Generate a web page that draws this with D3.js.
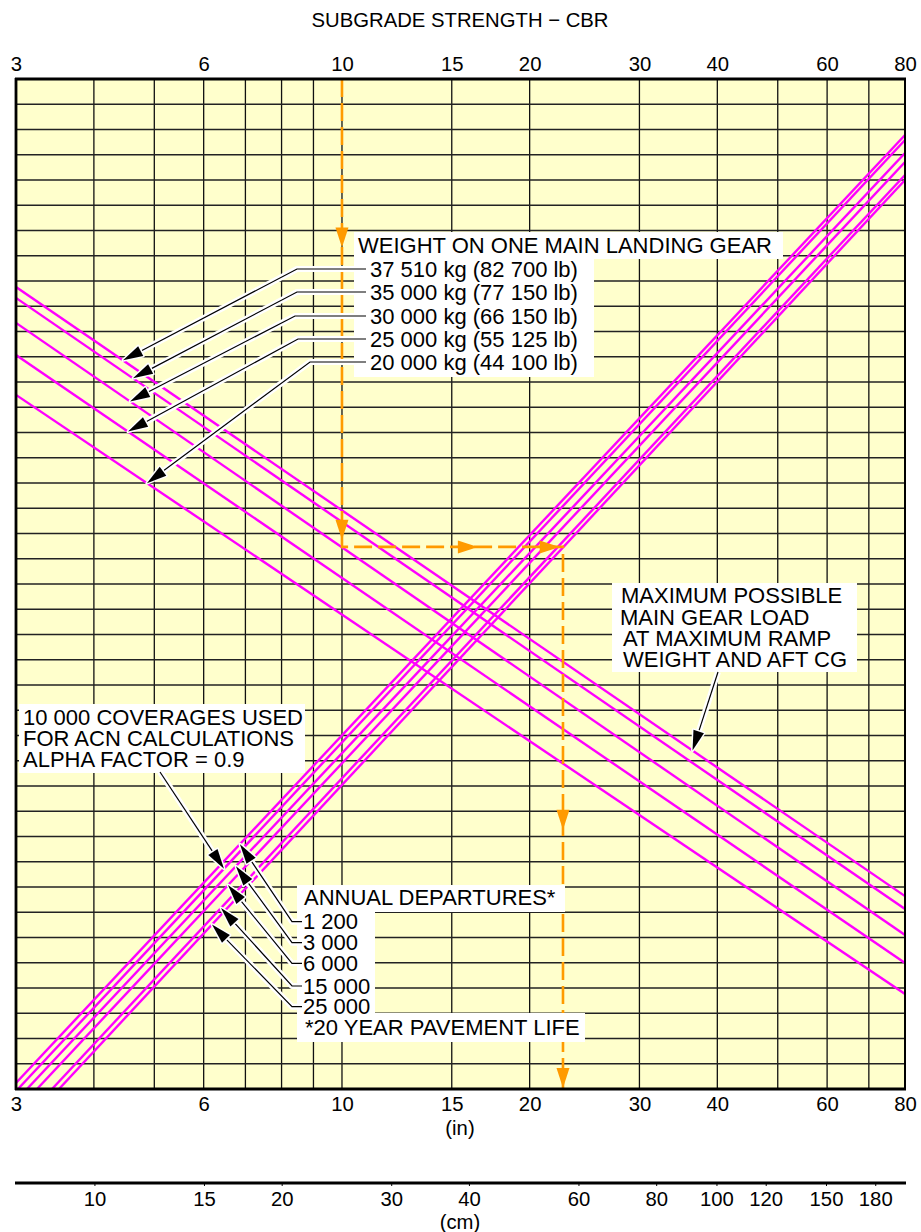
<!DOCTYPE html>
<html><head><meta charset="utf-8">
<script src="https://cdn.jsdelivr.net/npm/d3@7"></script>
<style>
body{margin:0;background:#fff}
text{font-family:"Liberation Sans",Arial,Helvetica,sans-serif;fill:#000}
</style>
</head><body>
<svg id="c" width="921" height="1232"></svg>
<script>
// ---------------- data ----------------
const cbrTicks = [3, 6, 10, 15, 20, 30, 40, 60, 80];
const gridValues = [3, 4, 5, 6, 7, 8, 9, 10, 15, 20, 30, 40, 50, 60, 70, 80];
const thicknessTicksIn = [3, 6, 10, 15, 20, 30, 40, 60, 80];
const thicknessTicksCm = [10, 15, 20, 30, 40, 60, 80, 100, 120, 150, 180];
const gridRows = d3.range(0, 41);

const weightLabels = ["37 510 kg (82 700 lb)", "35 000 kg (77 150 lb)", "30 000 kg (66 150 lb)", "25 000 kg (55 125 lb)", "20 000 kg (44 100 lb)"];
const weightRowAtCbr3 = [31.76, 31.33, 30.34, 29.07, 27.49];
const weightRowAtCbr80 = [7.64, 7.13, 6.10, 4.99, 3.76];
const weightTipCbr = [4.454, 4.621, 4.571, 4.537, 4.866];

const departureLabels = ["1 200", "3 000", "6 000", "15 000", "25 000"];
const departureStart = [[3, 0.24], [3.124, 0], [3.242, 0], [3.427, 0], [3.516, 0]];
const departureEnd = [[80, 37.78], [80, 37.07], [80, 36.71], [80, 36.2], [80, 36.0]];
const departureTipIn = [6.86, 6.76, 6.563, 6.396, 6.187];

const acnStart = [3.022, 0];
const acnEnd = [80, 37.58];
const acnTipIn = 6.467;
const maxLoadTipCbr = 36.5;

const examplePath = [[10, 40], [10, 21.47], [22.62, 21.47], [22.62, 0]];
const exampleArrowFractions = [[0.36, 0.985], [0.615, 0.985], [0.522, 0.998]];

// ---------------- layout ----------------
const svg = d3.select("#c");
const L = 16, R = 905, T = 79, B = 1089;
const x = d3.scaleLog().domain([3, 80]).range([L, R]);
const y = d3.scaleLinear().domain([0, 40]).range([B, T]);
const xcm = d3.scaleLog().domain([3 * 2.54, 80 * 2.54]).range([21, 908]);
const MAG = "#ff00ff", ORANGE = "#ff9a00", YEL = "#ffffcc";
const FS = 22;
const AFS = 20.3;

svg.append("defs").append("clipPath").attr("id", "plot")
  .append("rect").attr("x", L).attr("y", T).attr("width", R - L).attr("height", B - T);

// background
svg.append("rect").attr("x", L).attr("y", T).attr("width", R - L).attr("height", B - T).attr("fill", YEL);

// grid
const g = svg.append("g");
g.selectAll("line.v").data(gridValues).join("line")
  .attr("x1", d => x(d)).attr("x2", d => x(d)).attr("y1", T).attr("y2", B)
  .attr("stroke", "#111").attr("stroke-width", 1.3);
g.selectAll("line.h").data(gridRows).join("line")
  .attr("x1", L).attr("x2", R).attr("y1", d => y(d)).attr("y2", d => y(d))
  .attr("stroke", "#222").attr("stroke-width", 1.3);

// magenta lines
const curves = svg.append("g").attr("clip-path", "url(#plot)");
const lineGen = d3.line().x(d => x(d[0])).y(d => y(d[1]));
weightRowAtCbr3.forEach((r, i) => {
  curves.append("path").attr("d", lineGen([[3, r], [80, weightRowAtCbr80[i]]]))
    .attr("stroke", MAG).attr("stroke-width", 2.4).attr("fill", "none");
});
departureStart.forEach((s, i) => {
  curves.append("path").attr("d", lineGen([s, departureEnd[i]]))
    .attr("stroke", MAG).attr("stroke-width", 2.4).attr("fill", "none");
});
curves.append("path").attr("d", lineGen([acnStart, acnEnd]))
  .attr("stroke", MAG).attr("stroke-width", 2.4).attr("fill", "none");

// example path (orange dashed)
const ex = svg.append("g");
ex.append("path").attr("d", lineGen(examplePath)).attr("fill", "none")
  .attr("stroke", ORANGE).attr("stroke-width", 2.6).attr("stroke-dasharray", "18,6");
function arrowHead(parent, tx, ty, ang, len, hw, fill, halo) {
  const c = Math.cos(ang), s = Math.sin(ang);
  const bx = tx - len * c, by = ty - len * s;
  const pts = [[tx, ty], [bx - hw * s, by + hw * c], [bx + hw * s, by - hw * c]];
  const p = parent.append("polygon").attr("points", pts.map(q => q.join(",")).join(" ")).attr("fill", fill);
  if (halo) p.attr("stroke", "#fff").attr("stroke-width", 3).attr("paint-order", "stroke").attr("stroke-linejoin", "round");
  return p;
}
for (let k = 0; k < 3; k++) {
  const a = examplePath[k], b = examplePath[k + 1];
  const ax = x(a[0]), ay = y(a[1]), bx = x(b[0]), by = y(b[1]);
  const ang = Math.atan2(by - ay, bx - ax);
  exampleArrowFractions[k].forEach(f => {
    arrowHead(ex, ax + (bx - ax) * f, ay + (by - ay) * f, ang, 20, 6.5, ORANGE, false);
  });
}

// helpers for annotation
function pointOn(p0, p1, xv) {
  const px = x(xv), x0 = x(p0[0]), x1 = x(p1[0]);
  const t = (px - x0) / (x1 - x0);
  return [px, y(p0[1]) + t * (y(p1[1]) - y(p0[1]))];
}
const ann = svg.append("g");
function box(x0, y0, x1, y1) {
  ann.append("rect").attr("x", x0).attr("y", y0).attr("width", x1 - x0).attr("height", y1 - y0).attr("fill", "#fff");
}
function leader(pts) {
  const tip = pts[pts.length - 1], prev = pts[pts.length - 2];
  const ang = Math.atan2(tip[1] - prev[1], tip[0] - prev[0]);
  const base = [tip[0] - 16 * Math.cos(ang), tip[1] - 16 * Math.sin(ang)];
  const body = pts.slice(0, -1).concat([base]);
  const lg = d3.line();
  ann.append("path").attr("d", lg(pts.slice(0, -1).concat([[tip[0] - 8 * Math.cos(ang), tip[1] - 8 * Math.sin(ang)]])))
    .attr("fill", "none").attr("stroke", "#fff").attr("stroke-width", 6).attr("stroke-linejoin", "round");
  ann.append("path").attr("d", lg(body)).attr("fill", "none").attr("stroke", "#000").attr("stroke-width", 1.2);
  arrowHead(ann, tip[0], tip[1], ang, 20, 5.5, "#000", true);
}
function label(tx, ty, str, size, anchor) {
  return ann.append("text").attr("x", tx).attr("y", ty).attr("font-size", size || FS)
    .attr("text-anchor", anchor || "start").text(str);
}

// weight annotation
box(354, 232, 783, 259);
box(354, 258, 594, 377);
const weightRowY = [269, 292, 316, 339, 362];
const weightElbowX = [297, 297, 295, 298, 310];
weightLabels.forEach((t, i) => {
  const tip = pointOn([3, weightRowAtCbr3[i]], [80, weightRowAtCbr80[i]], weightTipCbr[i]);
  leader([[366, weightRowY[i]], [weightElbowX[i], weightRowY[i]], tip]);
  label(370, weightRowY[i] + 8, t);
});
label(358, 253, "WEIGHT ON ONE MAIN LANDING GEAR");

// max gear load annotation
box(612, 583, 857, 672);
leader([[718, 672], pointOn([3, weightRowAtCbr3[0]], [80, weightRowAtCbr80[0]], maxLoadTipCbr)]);
label(621, 603, "MAXIMUM POSSIBLE");
label(620, 625, "MAIN GEAR LOAD");
label(623, 646, "AT MAXIMUM RAMP");
label(623, 667, "WEIGHT AND AFT CG");

// coverage annotation
box(19, 704, 305, 773);
leader([[160, 772], pointOn(acnStart, acnEnd, acnTipIn)]);
label(23, 725, "10 000 COVERAGES USED");
label(23, 746, "FOR ACN CALCULATIONS");
label(23, 767, "ALPHA FACTOR = 0.9");

// departures annotation
box(297, 885, 565, 912);
box(297, 911, 375, 1014);
box(297, 1013, 585, 1042);
const depRowY = [921.7, 942.7, 963.3, 986, 1006.7];
departureLabels.forEach((t, i) => {
  const tip = pointOn(departureStart[i], departureEnd[i], departureTipIn[i]);
  leader([[302, depRowY[i]], [292, depRowY[i]], tip]);
  label(303, depRowY[i] + 7.5, t);
});
label(304, 905, "ANNUAL DEPARTURES*");
label(305, 1035, "*20 YEAR PAVEMENT LIFE");

// frame
const fr = svg.append("g").attr("stroke", "#000").attr("fill", "none");
fr.append("line").attr("x1", L).attr("x2", L).attr("y1", T - 1).attr("y2", B + 1).attr("stroke-width", 2.8);
fr.append("line").attr("x1", L - 1).attr("x2", R + 1).attr("y1", T).attr("y2", T).attr("stroke-width", 2.8);
fr.append("line").attr("x1", L - 1).attr("x2", R + 1).attr("y1", B).attr("y2", B).attr("stroke-width", 2.8);
fr.append("line").attr("x1", R).attr("x2", R).attr("y1", T - 1).attr("y2", B + 1).attr("stroke-width", 2);

// axes (labels only)
const topAxis = d3.axisTop(x).tickValues(cbrTicks).tickFormat(d3.format("d")).tickSize(0).tickPadding(0);
const ta = svg.append("g").attr("transform", `translate(0,${T - 8})`).call(topAxis);
ta.select(".domain").remove();
ta.selectAll("text").attr("font-size", AFS).attr("font-family", "Liberation Sans, Arial, sans-serif").attr("fill", "#000");

const botAxis = d3.axisBottom(x).tickValues(thicknessTicksIn).tickFormat(d3.format("d")).tickSize(0).tickPadding(0);
const ba = svg.append("g").attr("transform", `translate(0,${1097})`).call(botAxis);
ba.select(".domain").remove();
ba.selectAll("text").attr("font-size", AFS).attr("font-family", "Liberation Sans, Arial, sans-serif").attr("fill", "#000");

const cmAxis = d3.axisBottom(xcm).tickValues(thicknessTicksCm).tickFormat(d3.format("d")).tickSize(3).tickPadding(6);
const ca = svg.append("g").attr("transform", `translate(0,1183)`).call(cmAxis);
ca.select(".domain").remove();
ca.selectAll(".tick line").attr("stroke", "#000");
ca.selectAll("text").attr("font-size", AFS).attr("font-family", "Liberation Sans, Arial, sans-serif").attr("fill", "#000");
svg.append("line").attr("x1", 15).attr("x2", 906).attr("y1", 1183).attr("y2", 1183).attr("stroke", "#000").attr("stroke-width", 3);

svg.append("text").attr("x", 460).attr("y", 27).attr("text-anchor", "middle").attr("font-size", AFS).text("SUBGRADE STRENGTH \u2212 CBR");
svg.append("text").attr("x", 460).attr("y", 1135).attr("text-anchor", "middle").attr("font-size", AFS).text("(in)");
svg.append("text").attr("x", 460).attr("y", 1229).attr("text-anchor", "middle").attr("font-size", AFS).text("(cm)");
</script>
</body></html>
